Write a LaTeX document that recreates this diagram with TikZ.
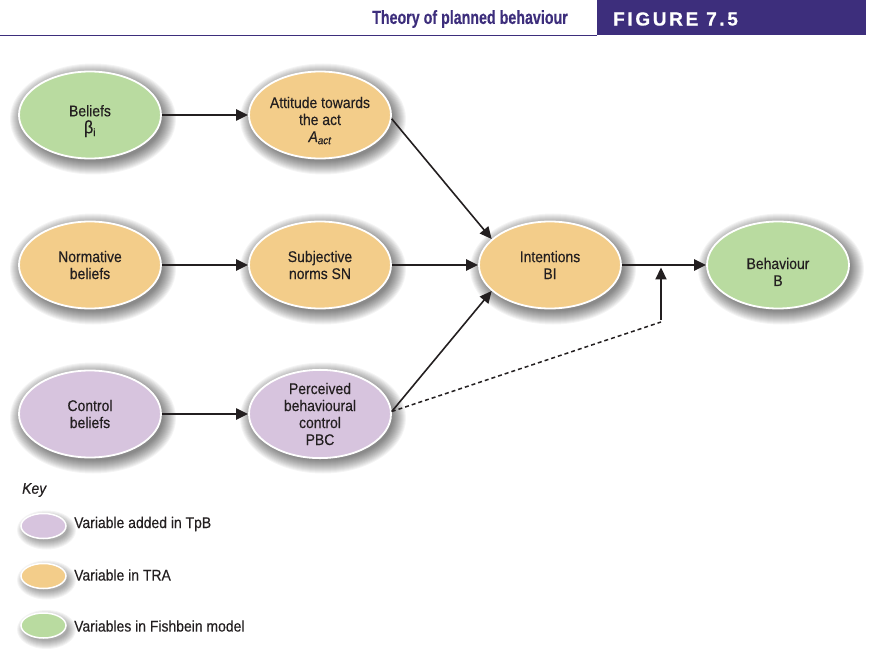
\documentclass[tikz,border=0pt]{standalone}
\usepackage{fontspec}
\setmainfont{Liberation Sans}[FakeStretch=0.9,FakeBold=0.35]
\newfontfamily\figfont{Liberation Sans}[LetterSpace=14,FakeBold=0.6]
\newfontfamily\titlefont{Liberation Sans}[FakeStretch=0.75,FakeBold=0.3]
\usetikzlibrary{arrows.meta,shapes.geometric}
\definecolor{cgreen}{RGB}{185,219,160}
\definecolor{corange}{RGB}{243,205,138}
\definecolor{cpurple}{RGB}{215,196,222}
\definecolor{hdr}{RGB}{61,46,124}
\definecolor{txt}{RGB}{35,31,32}
\newcommand\softshd[5]{%
  \foreach \k in {1,...,#5}{%
    \fill[black,opacity=0.045] (#1+3,#2+4) ellipse [x radius={#3+\k-2}, y radius={#4+\k-2}];}}
\begin{document}
\begin{tikzpicture}[x=1pt,y=-1pt,
  ell/.style={ellipse,draw=white,line width=1.8pt,minimum width=142pt,minimum height=87pt,
    inner sep=0pt,align=center,text=txt,font=\fontsize{15.5}{17}\selectfont},
  keyell/.style={ellipse,draw=white,line width=1.5pt,minimum width=45pt,minimum height=25pt,inner sep=0pt},
  keytxt/.style={anchor=west,text=txt,font=\fontsize{15.5}{17}\selectfont,inner sep=0pt},
  arr/.style={-{Triangle[length=12pt,width=11pt]},line width=2.2pt,color=txt},
  darr/.style={-{Triangle[length=12pt,width=11pt]},line width=1.6pt,color=txt}
]
\useasboundingbox (0,0) rectangle (876,663);
% header
\fill[hdr] (597,0) rectangle (866,35);
\draw[hdr,line width=1.3pt] (0,35.5) -- (597,35.5);
\node[anchor=west,inner sep=0pt,text=hdr,font=\titlefont\bfseries\fontsize{19}{21}\selectfont] (title) at (372,19) {Theory of planned behaviour};
\node[anchor=west,inner sep=0pt,text=white,font=\figfont\bfseries\fontsize{19}{22}\selectfont] (fig) at (613,19) {FIGURE 7.5};
% shadows
\softshd{90}{115}{71}{43.5}{14}
\softshd{320}{115}{71}{43.5}{14}
\softshd{90}{265}{71}{43.5}{14}
\softshd{320}{265}{71}{43.5}{14}
\softshd{550}{265}{71}{43.5}{14}
\softshd{778}{265}{71}{43.5}{14}
\softshd{90}{414}{71}{43.5}{14}
\softshd{320}{414}{71}{43.5}{14}
\softshd{43.5}{526}{22.5}{12.5}{9}
\softshd{43.5}{576}{22.5}{12.5}{9}
\softshd{43.5}{625.5}{22.5}{12.5}{9}
% nodes
\node[ell,fill=cgreen] (bel) at (90,115) {\rule{0pt}{0pt}\\[6.3pt]Beliefs\\{\fontsize{18}{17}\selectfont β}\textsubscript{i}};
\node[ell,fill=corange] (att) at (320,115) {\rule{0pt}{0pt}\\[5.3pt]Attitude towards\\the act\\\textit{A\textsubscript{act}}};
\node[ell,fill=corange] (norm) at (90,265) {Normative\\beliefs};
\node[ell,fill=corange] (subj) at (320,265) {Subjective\\norms SN};
\node[ell,fill=corange] (int) at (550,265) {Intentions\\BI};
\node[ell,fill=cgreen] (beh) at (778,265) {\rule{0pt}{0pt}\\[8pt]Behaviour\\B};
\node[ell,fill=cpurple] (ctrl) at (90,414) {Control\\beliefs};
\node[ell,fill=cpurple] (pbc) at (320,414) {Perceived\\behavioural\\control\\PBC};
% connectors
\draw[arr] (bel) -- (att);
\draw[arr] (norm) -- (subj);
\draw[arr] (ctrl) -- (pbc);
\draw[arr] (subj) -- (int);
\draw[arr] (int) -- (beh);
\draw[darr] (att.-3) -- (int.156);
\draw[darr] (pbc.2) -- (int.204);
\coordinate (dj) at (661,322);
\coordinate (mj) at (661,265);
\draw[txt,line width=1.5pt,dash pattern=on 4pt off 3pt] (pbc.2) -- (dj);
\draw[arr,shorten >=2.5pt] (661,320) -- (mj);
% key
\node[anchor=west,inner sep=0pt,text=txt,font=\itshape\fontsize{15.5}{17}\selectfont] (key) at (22,490) {Key};
\node[keyell,fill=cpurple] (k1) at (43.5,526) {};
\node[keyell,fill=corange] (k2) at (43.5,576) {};
\node[keyell,fill=cgreen] (k3) at (43.5,625.5) {};
\node[keytxt] (t1) at (74,524) {Variable added in TpB};
\node[keytxt] (t2) at (74,575) {Variable in TRA};
\node[keytxt] (t3) at (74,626) {Variables in Fishbein model};
\end{tikzpicture}
\end{document}
